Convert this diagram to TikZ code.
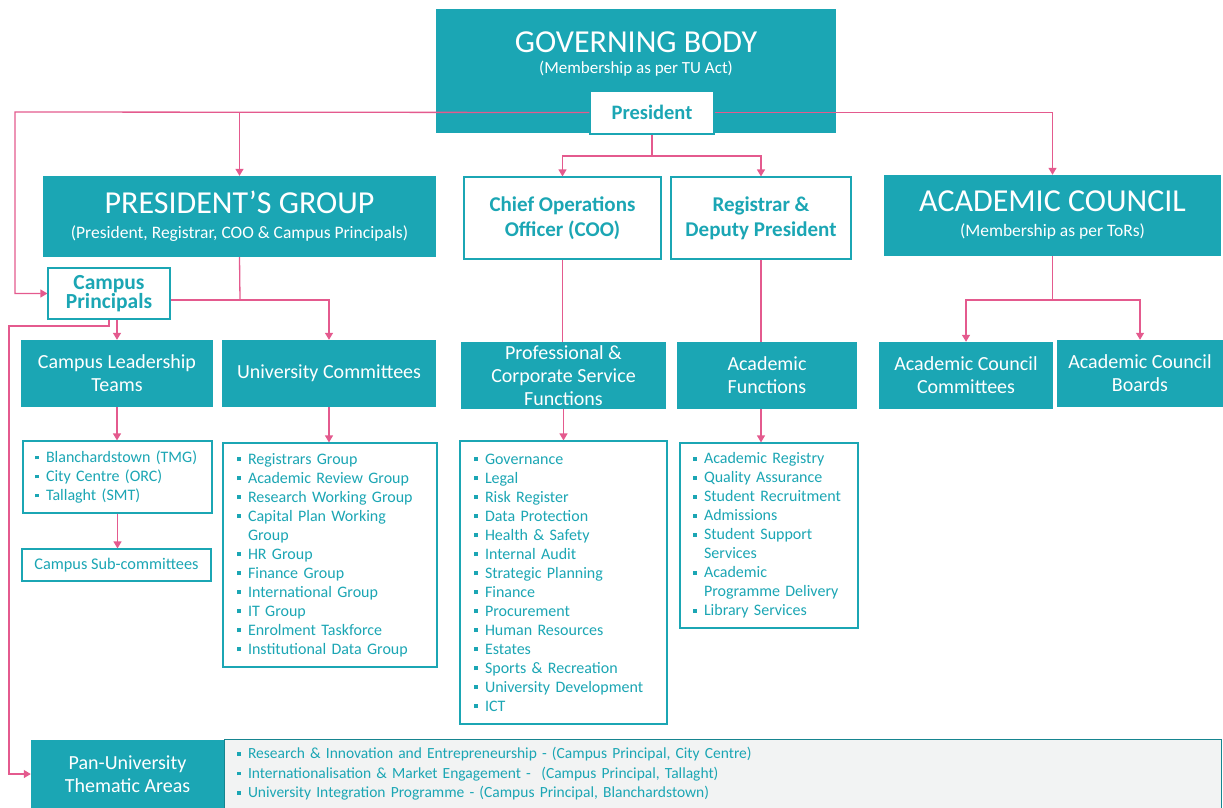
\documentclass[tikz,border=0pt]{standalone}
\usepackage{fontspec}
\setmainfont{Carlito}
\usetikzlibrary{positioning, arrows.meta}
\definecolor{tuteal}{RGB}{27,166,180}
\definecolor{tupink}{RGB}{228,90,142}
\definecolor{tugrey}{RGB}{242,243,243}
\newcommand{\sq}{\makebox[11pt][l]{\rule[3pt]{3.8pt}{3.8pt}}}
\newcommand{\ind}{\hspace*{11pt}}
\tikzset{
>={Triangle[length=7pt,width=8pt]}, % filled arrow heads
fillbox/.style={fill=tuteal, text=white, align=center, inner sep=2pt, font=\fontsize{20}{23}\selectfont}, % teal boxes
headbox/.style={fillbox, font=\fontsize{17.5}{25}\selectfont}, % big teal boxes with a subtitle
linebox/.style={draw=tuteal, line width=1.2pt, fill=white, text=tuteal, align=center, inner sep=2pt, font=\bfseries\fontsize{21}{25}\selectfont}, % white boxes, bold text
listbox/.style={draw=tuteal, line width=1.2pt, fill=white, text=tuteal, align=left, inner xsep=12pt, font=\fontsize{16}{19}\selectfont}, % bullet lists
link/.style={draw=tupink, line width=1.3pt}, % plain connector
arr/.style={link, ->}, % connector with head
}
\begin{document}
\begin{tikzpicture}[x=1pt, y=-1pt]
\useasboundingbox (0,0) rectangle (1223,807);
% top row
\node[fillbox, minimum width=400, minimum height=124] (gb) at (636,71) {};
\node[text=white, font=\fontsize{32}{34}\selectfont] (gbt) at (636,42) {GOVERNING BODY};
\node[text=white, font=\fontsize{17}{20}\selectfont] (gbs) at (636,69) {(Membership as per TU Act)};
\node[linebox, minimum width=124, minimum height=43, font=\bfseries\fontsize{20.5}{24}\selectfont] (pres) at (652,112.5) {President};
% second row
\node[headbox, minimum width=393, minimum height=81] (pg) at (239.5,216.5)
  {{\fontsize{32}{32}\selectfont PRESIDENT’S GROUP}\\(President, Registrar, COO \& Campus Principals)};
\node[linebox, minimum width=197, minimum height=82] (coo) at (562.5,218) {Chief Operations\\Officer (COO)};
\node[linebox, minimum width=180, minimum height=82] (reg) at (761,218) {Registrar \&\\Deputy President};
\node[headbox, minimum width=337, minimum height=81] (ac) at (1052.5,215.5)
  {{\fontsize{32}{32}\selectfont ACADEMIC COUNCIL}\\(Membership as per ToRs)};
\node[linebox, minimum width=122, minimum height=51, font=\bfseries\fontsize{21.5}{17}\selectfont] (cp) at (109,293.5) {Campus\\Principals};
% third row
\node[fillbox, minimum width=192, minimum height=67] (clt) at (117,373.5) {Campus Leadership\\Teams};
\node[fillbox, minimum width=214, minimum height=67] (uc) at (329,373.5) {University Committees};
\node[fillbox, minimum width=205, minimum height=67] (prof) at (563.5,375.5) {Professional \&\\Corporate Service\\Functions};
\node[fillbox, minimum width=180, minimum height=67] (af) at (767,375.5) {Academic\\Functions};
\node[fillbox, minimum width=174, minimum height=67] (acc) at (966,375.5) {Academic Council\\Committees};
\node[fillbox, minimum width=166, minimum height=67] (acb) at (1140,373.5) {Academic Council\\Boards};
% lists
\node[listbox, text width=165, minimum height=72] (cltl) at (117.5,477)
  {\sq Blanchardstown (TMG)\\\sq City Centre (ORC)\\\sq Tallaght (SMT)};
\node[listbox, minimum width=189, minimum height=32, align=center, font=\fontsize{16.3}{19}\selectfont] (sub) at (116.5,565) {Campus Sub-committees};
\node[listbox, text width=186, inner xsep=14pt, minimum height=224] (ucl) at (330,555)
  {\sq Registrars Group\\\sq Academic Review Group\\\sq Research Working Group\\\sq Capital Plan Working\\\ind Group\\\sq HR Group\\\sq Finance Group\\\sq International Group\\\sq IT Group\\\sq Enrolment Taskforce\\\sq Institutional Data Group};
\node[listbox, text width=179, inner xsep=14pt, minimum height=283] (profl) at (563.5,582.5)
  {\sq Governance\\\sq Legal\\\sq Risk Register\\\sq Data Protection\\\sq Health \& Safety\\\sq Internal Audit\\\sq Strategic Planning\\\sq Finance\\\sq Procurement\\\sq Human Resources\\\sq Estates\\\sq Sports \& Recreation\\\sq University Development\\\sq ICT};
\node[listbox, text width=152, inner xsep=13pt, minimum height=185] (afl) at (769,535.5)
  {\sq Academic Registry\\\sq Quality Assurance\\\sq Student Recruitment\\\sq Admissions\\\sq Student Support\\\ind Services\\\sq Academic\\\ind Programme Delivery\\\sq Library Services};
% bottom band
\node[fillbox, minimum width=193, minimum height=69] (pan) at (127.5,774) {Pan-University\\Thematic Areas};
\node[listbox, fill=tugrey, line width=1pt, draw=tuteal!80!black, text width=971, inner xsep=13pt, minimum height=70,
  font=\fontsize{15.5}{19.5}\selectfont] (panl) at (722.5,774)
  {\sq Research \& Innovation and Entrepreneurship - (Campus Principal, City Centre)\\
   \sq Internationalisation \& Market Engagement -\ \ (Campus Principal, Tallaght)\\
   \sq University Integration Programme - (Campus Principal, Blanchardstown)};
% connectors
\coordinate (la) at (15,112);
\coordinate (pj) at (652,156);
\coordinate (cpj) at (240,300);
\coordinate (lb) at (9,326);
\coordinate (acj) at (1052.5,300);
\draw[arr] (pres.west) -- (la) |- (cp.west);
\draw[arr] (pres.west -| pg.north) -- (pg.north);
\draw[arr] (pres.east) -| (ac.north);
\draw[link] (pres.south) -- (pj);
\draw[arr] (pj) -| (coo.north);
\draw[arr] (pj) -| (reg.north);
\draw[link] (pg.south) -- (cpj);
\draw[arr] (cp.east |- cpj) -| (uc.north);
\draw[arr] (clt.north |- cp.south) -- (clt.north);
\draw[arr] (cp.south) |- (lb) |- (pan.west);
\draw[arr] (clt.south) -- (clt.south |- cltl.north);
\draw[arr] (cltl.south) -- (cltl.south |- sub.north);
\draw[arr] (uc.south) -- (uc.south |- ucl.north);
\draw[link] (coo.south) -- (coo.south |- prof.north);
\draw[arr] (prof.south) -- (prof.south |- profl.north);
\draw[link] (reg.south) -- (reg.south |- af.north);
\draw[arr] (reg.south |- af.south) -- (reg.south |- afl.north);
\draw[link] (ac.south) -- (acj);
\draw[arr] (acj) -| (acc.north);
\draw[arr] (acj) -| (acb.north);
\end{tikzpicture}
\end{document}
